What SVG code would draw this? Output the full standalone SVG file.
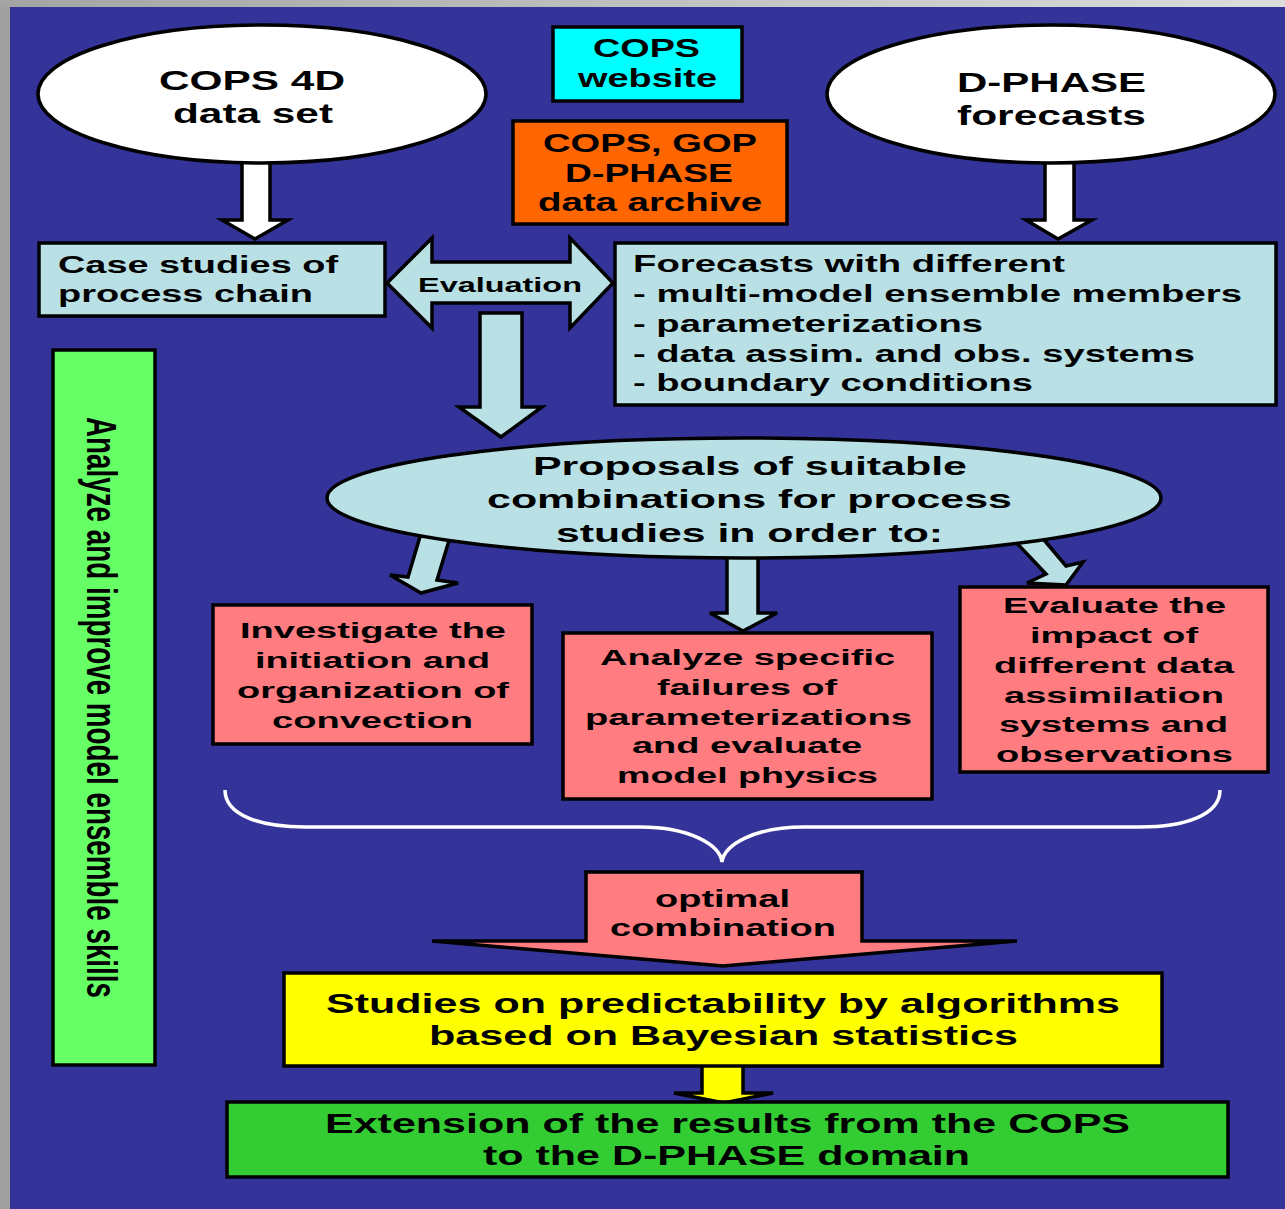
<svg xmlns="http://www.w3.org/2000/svg" width="1285" height="1209" viewBox="0 0 1285 1209">
<defs>
<linearGradient id="topg" x1="0" y1="0" x2="1" y2="0">
<stop offset="0" stop-color="#a4a4a4"/><stop offset="1" stop-color="#dcdcdc"/>
</linearGradient>
<style>
.t{font-family:"Liberation Sans",Arial,sans-serif;font-weight:bold;fill:#000}
.ln{stroke:#000;stroke-width:3.5;stroke-linejoin:miter}
.cy{fill:#b9e0e4}
.rd{fill:#ff7c80}
.wh{fill:#fff}
</style>
</defs>
<rect x="0" y="0" width="1285" height="1209" fill="#a0a0a0"/>
<rect x="0" y="0" width="1285" height="7" fill="url(#topg)"/>
<rect x="10" y="7" width="1275" height="1202" fill="#333399"/>

<g id="connectors">
<polygon class="ln wh" points="242,150 270,150 270,220 288,220 255,239 222,220 242,220"/>
<polygon class="ln wh" points="1045,150 1074,150 1074,220 1092,220 1058,239 1026,220 1045,220"/>
<polygon class="ln cy" points="387,283 432,238 432,262 570,262 570,238 613,283 570,328 570,303 432,303 432,328"/>
<text class="t" x="418" y="292" font-size="21" textLength="164" lengthAdjust="spacingAndGlyphs">Evaluation</text>
<polygon class="ln cy" points="480,313 522,313 522,407 542,407 501,437 459,407 480,407"/>
<polygon class="ln cy" points="422,530 451,534 437,580 458,583 421,593 390,575 408,577"/>
<polygon class="ln cy" points="727,540 758,540 758,613 777,613 743,631 710,613 727,613"/>
<polygon class="ln cy" points="1012,538 1034,528 1066,566 1083,562 1066,585 1027,583 1046,574"/>
<path d="M225,790 C225,815 260,827 305,827 L640,827 C690,827 720,845 722,862 C724,845 754,827 804,827 L1140,827 C1185,827 1220,815 1220,790" fill="none" stroke="#fff" stroke-width="3.5"/>
<polygon class="ln rd" points="586,872 862,872 862,941 1017,941 723,966 432,941 586,941"/>
<text class="t" x="655" y="907" font-size="24" textLength="135" lengthAdjust="spacingAndGlyphs">optimal</text>
<text class="t" x="610" y="936" font-size="24" textLength="226" lengthAdjust="spacingAndGlyphs">combination</text>
<polygon class="ln" fill="#ffff00" points="702,1060 743,1060 743,1093 773,1093 724,1103 674,1093 702,1093"/>
</g>

<g id="cops4d">
<ellipse class="ln wh" cx="262" cy="94" rx="224" ry="69"/>
<text class="t" x="159" y="90" font-size="27" textLength="186" lengthAdjust="spacingAndGlyphs">COPS 4D</text>
<text class="t" x="173" y="123" font-size="27" textLength="160" lengthAdjust="spacingAndGlyphs">data set</text>
</g>

<g id="website">
<rect class="ln" fill="#00ffff" x="553" y="27" width="189" height="74"/>
<text class="t" x="593" y="57" font-size="26" textLength="107" lengthAdjust="spacingAndGlyphs">COPS</text>
<text class="t" x="578" y="87" font-size="26" textLength="139" lengthAdjust="spacingAndGlyphs">website</text>
</g>

<g id="archive">
<rect class="ln" fill="#ff6600" x="513" y="121" width="274" height="103"/>
<text class="t" x="543" y="152" font-size="26" textLength="214" lengthAdjust="spacingAndGlyphs">COPS, GOP</text>
<text class="t" x="565" y="182" font-size="26" textLength="168" lengthAdjust="spacingAndGlyphs">D-PHASE</text>
<text class="t" x="538" y="211" font-size="26" textLength="224" lengthAdjust="spacingAndGlyphs">data archive</text>
</g>

<g id="dphase">
<ellipse class="ln wh" cx="1051" cy="94" rx="224" ry="69"/>
<text class="t" x="957" y="92" font-size="27" textLength="189" lengthAdjust="spacingAndGlyphs">D-PHASE</text>
<text class="t" x="957" y="125" font-size="27" textLength="189" lengthAdjust="spacingAndGlyphs">forecasts</text>
</g>

<g id="casestudies">
<rect class="ln cy" x="39" y="243" width="346" height="73"/>
<text class="t" x="58" y="273" font-size="23" textLength="280" lengthAdjust="spacingAndGlyphs">Case studies of</text>
<text class="t" x="58" y="302" font-size="23" textLength="255" lengthAdjust="spacingAndGlyphs">process chain</text>
</g>

<g id="forecasts">
<rect class="ln cy" x="615" y="243" width="661" height="162"/>
<text class="t" x="633" y="272" font-size="24" textLength="432" lengthAdjust="spacingAndGlyphs">Forecasts with different</text>
<text class="t" x="633" y="302" font-size="24" textLength="609" lengthAdjust="spacingAndGlyphs">- multi-model ensemble members</text>
<text class="t" x="633" y="332" font-size="24" textLength="350" lengthAdjust="spacingAndGlyphs">- parameterizations</text>
<text class="t" x="633" y="362" font-size="24" textLength="562" lengthAdjust="spacingAndGlyphs">- data assim. and obs. systems</text>
<text class="t" x="633" y="391" font-size="24" textLength="400" lengthAdjust="spacingAndGlyphs">- boundary conditions</text>
</g>

<g id="skills">
<rect class="ln" fill="#66ff66" x="53" y="350" width="102" height="715"/>
<text class="t" transform="translate(87,417) rotate(90) scale(0.7,1)" x="0" y="0" font-size="43" textLength="830" lengthAdjust="spacingAndGlyphs">Analyze and improve model ensemble skills</text>
</g>

<g id="proposals">
<ellipse class="ln cy" cx="744" cy="498" rx="417" ry="60"/>
<text class="t" x="533" y="475" font-size="25" textLength="434" lengthAdjust="spacingAndGlyphs">Proposals of suitable</text>
<text class="t" x="487" y="508" font-size="25" textLength="525" lengthAdjust="spacingAndGlyphs">combinations for process</text>
<text class="t" x="556" y="542" font-size="25" textLength="387" lengthAdjust="spacingAndGlyphs">studies in order to:</text>
</g>

<g id="investigate">
<rect class="ln rd" x="213" y="605" width="319" height="139"/>
<text class="t" x="240" y="638" font-size="22" textLength="266" lengthAdjust="spacingAndGlyphs">Investigate the</text>
<text class="t" x="255" y="668" font-size="22" textLength="235" lengthAdjust="spacingAndGlyphs">initiation and</text>
<text class="t" x="237" y="698" font-size="22" textLength="272" lengthAdjust="spacingAndGlyphs">organization of</text>
<text class="t" x="272" y="728" font-size="22" textLength="201" lengthAdjust="spacingAndGlyphs">convection</text>
</g>

<g id="analyze">
<rect class="ln rd" x="563" y="633" width="369" height="166"/>
<text class="t" x="600" y="665" font-size="22" textLength="295" lengthAdjust="spacingAndGlyphs">Analyze specific</text>
<text class="t" x="657" y="695" font-size="22" textLength="180" lengthAdjust="spacingAndGlyphs">failures of</text>
<text class="t" x="585" y="725" font-size="22" textLength="327" lengthAdjust="spacingAndGlyphs">parameterizations</text>
<text class="t" x="632" y="753" font-size="22" textLength="230" lengthAdjust="spacingAndGlyphs">and evaluate</text>
<text class="t" x="617" y="783" font-size="22" textLength="261" lengthAdjust="spacingAndGlyphs">model physics</text>
</g>

<g id="evaluate">
<rect class="ln rd" x="960" y="587" width="308" height="185"/>
<text class="t" x="1003" y="613" font-size="22" textLength="223" lengthAdjust="spacingAndGlyphs">Evaluate the</text>
<text class="t" x="1030" y="643" font-size="22" textLength="168" lengthAdjust="spacingAndGlyphs">impact of</text>
<text class="t" x="994" y="673" font-size="22" textLength="240" lengthAdjust="spacingAndGlyphs">different data</text>
<text class="t" x="1004" y="703" font-size="22" textLength="220" lengthAdjust="spacingAndGlyphs">assimilation</text>
<text class="t" x="999" y="732" font-size="22" textLength="229" lengthAdjust="spacingAndGlyphs">systems and</text>
<text class="t" x="996" y="762" font-size="22" textLength="237" lengthAdjust="spacingAndGlyphs">observations</text>
</g>

<g id="studies">
<rect class="ln" fill="#ffff00" x="284" y="973" width="878" height="93"/>
<text class="t" x="326" y="1013" font-size="27" textLength="794" lengthAdjust="spacingAndGlyphs">Studies on predictability by algorithms</text>
<text class="t" x="429" y="1045" font-size="27" textLength="589" lengthAdjust="spacingAndGlyphs">based on Bayesian statistics</text>
</g>

<g id="extension">
<rect class="ln" fill="#33cc33" x="227" y="1102" width="1001" height="75"/>
<text class="t" x="325" y="1133" font-size="27" textLength="805" lengthAdjust="spacingAndGlyphs">Extension of the results from the COPS</text>
<text class="t" x="483" y="1165" font-size="27" textLength="487" lengthAdjust="spacingAndGlyphs">to the D-PHASE domain</text>
</g>
</svg>
